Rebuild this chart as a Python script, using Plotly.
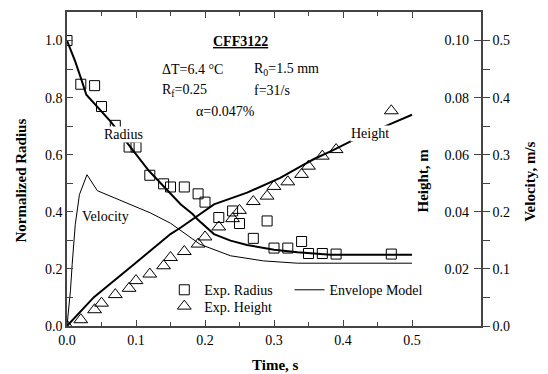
import plotly.graph_objects as go

# Experimental data
exp_t = [0, 0.02, 0.04, 0.05, 0.07, 0.09, 0.10, 0.12, 0.14, 0.15, 0.17, 0.19, 0.20,
         0.22, 0.24, 0.25, 0.27, 0.29, 0.30, 0.32, 0.34, 0.35, 0.37, 0.39, 0.47]
exp_radius = [1.0, 0.847, 0.842, 0.769, 0.703, 0.627, 0.627, 0.528, 0.498, 0.487, 0.487,
              0.463, 0.434, 0.38, 0.403, 0.359, 0.307, 0.368, 0.273, 0.273, 0.296, 0.254,
              0.254, 0.252, 0.252]
exp_height = [0, 0.0022, 0.0057, 0.008, 0.011, 0.0132, 0.0159, 0.0182, 0.0211, 0.024,
              0.0261, 0.0287, 0.0312, 0.0347, 0.0376, 0.0405, 0.0436, 0.0455, 0.0489,
              0.0505, 0.0531, 0.056, 0.0595, 0.0618, 0.0754]

# Envelope model curves
rad_t = [0, 0.012, 0.021, 0.028, 0.063, 0.119, 0.165, 0.182, 0.189, 0.213, 0.237,
         0.261, 0.30, 0.334, 0.382, 0.5]
rad_v = [1.0, 0.926, 0.862, 0.81, 0.717, 0.543, 0.426, 0.392, 0.374, 0.322, 0.299,
         0.284, 0.267, 0.258, 0.25, 0.25]

hgt_t = [0, 0.039, 0.095, 0.126, 0.15, 0.165, 0.18, 0.19, 0.213, 0.261, 0.309, 0.338,
         0.358, 0.382, 0.411, 0.47, 0.5]
hgt_v = [0, 0.0101, 0.0212, 0.0275, 0.0322, 0.0345, 0.037, 0.0385, 0.0426, 0.0467,
         0.0519, 0.0558, 0.0585, 0.0612, 0.0647, 0.0709, 0.074]

vel_t = [0, 0.005, 0.0075, 0.012, 0.018, 0.029, 0.044, 0.121, 0.15, 0.169, 0.193,
         0.237, 0.285, 0.334, 0.4, 0.5]
vel_v = [0, 0.062, 0.108, 0.178, 0.23, 0.265, 0.237, 0.198, 0.18, 0.164, 0.143,
         0.123, 0.114, 0.11, 0.11, 0.11]

FONT = "Liberation Serif"
AX = "#444"

fig = go.Figure()

fig.add_trace(go.Scatter(x=exp_t, y=exp_radius, mode="markers", name="Exp. Radius",
                         marker=dict(symbol="square-open", size=10, color="black",
                                     line=dict(width=1, color="black")),
                         legend="legend", yaxis="y"))
fig.add_trace(go.Scatter(x=exp_t, y=exp_height, mode="markers", name="Exp. Height",
                         marker=dict(symbol="triangle-up-open", size=12, color="black",
                                     line=dict(width=1, color="black")),
                         legend="legend3", yaxis="y2"))
fig.add_trace(go.Scatter(x=vel_t, y=vel_v, mode="lines", name="Envelope Model",
                         line=dict(color="black", width=1),
                         legend="legend2", yaxis="y3"))
fig.add_trace(go.Scatter(x=rad_t, y=rad_v, mode="lines", showlegend=False,
                         line=dict(color="black", width=2), yaxis="y"))
fig.add_trace(go.Scatter(x=hgt_t, y=hgt_v, mode="lines", showlegend=False,
                         line=dict(color="black", width=2), yaxis="y2"))

tickfont = dict(family=FONT, size=14, color="black")
legfont = dict(family=FONT, size=14, color="black")

# page body adds an 8px offset: figure is 540x366 placed at (8,8)
fig.update_layout(
    width=540, height=366,
    margin=dict(l=58.5, r=67, t=2, b=48),
    paper_bgcolor="white", plot_bgcolor="white",
    font=dict(family=FONT, size=14, color="black"),
    xaxis=dict(range=[0, 0.6], dtick=0.1, tickformat=".1f", ticks="inside", ticklen=6,
               tickcolor=AX, minor=dict(dtick=0.05, ticks="inside", ticklen=4, tickcolor=AX),
               showline=True, linecolor=AX, linewidth=1.5, mirror="ticks",
               showgrid=False, zeroline=False, tickfont=tickfont),
    yaxis=dict(range=[0, 1.1], tickvals=[0, 0.2, 0.4, 0.6, 0.8, 1.0], tickformat=".1f",
               ticks="inside", ticklen=6, tickcolor=AX,
               minor=dict(tickvals=[0.1, 0.3, 0.5, 0.7, 0.9], ticks="inside", ticklen=6, tickcolor=AX),
               showline=True, linecolor=AX, linewidth=1.5, showgrid=False, zeroline=False,
               tickfont=tickfont),
    yaxis2=dict(range=[0, 0.11], overlaying="y", side="right", anchor="x",
                tickvals=[0.02, 0.04, 0.06, 0.08, 0.10], tickformat=".2f",
                ticks="inside", ticklen=7, tickcolor=AX, ticklabelposition="inside",
                ticklabelstandoff=5,
                showline=True, linecolor=AX, linewidth=1.5, showgrid=False, zeroline=False,
                tickfont=tickfont),
    yaxis3=dict(range=[0, 0.55], overlaying="y", side="right", anchor="x",
                tickvals=[0, 0.1, 0.2, 0.3, 0.4, 0.5], tickformat=".1f",
                ticks="outside", ticklen=7, tickcolor=AX,
                minor=dict(tickvals=[0.05, 0.15, 0.25, 0.35, 0.45], ticks="outside", ticklen=7, tickcolor=AX),
                showline=True, linecolor=AX, linewidth=1.5, showgrid=False, zeroline=False,
                tickfont=tickfont),
    legend=dict(x=0.235, y=0.165, xanchor="left", yanchor="top", bgcolor="rgba(0,0,0,0)",
                font=legfont, itemwidth=30),
    legend3=dict(x=0.235, y=0.113, xanchor="left", yanchor="top", bgcolor="rgba(0,0,0,0)",
                 font=legfont, itemwidth=30),
    legend2=dict(x=0.5375, y=0.165, xanchor="left", yanchor="top", bgcolor="rgba(0,0,0,0)",
                 font=legfont, itemwidth=30),
)

def note(text, x, y, xanchor="left", size=14, bg=None):
    fig.add_annotation(text=text, x=x, y=y, xref="x", yref="y", showarrow=False,
                       xanchor=xanchor, yanchor="middle",
                       font=dict(family=FONT, size=size, color="black"),
                       bgcolor=bg, borderpad=0)

note("<b><u>CFF3122</u></b>", 0.2514, 0.998, xanchor="center", size=14)
note("ΔT=6.4 °C", 0.1355, 0.90)
note("R<sub>0</sub>=1.5 mm", 0.269, 0.90)
note("R<sub>f</sub>=0.25", 0.1355, 0.826)
note("f=31/s", 0.269, 0.826)
note("α=0.047%", 0.186, 0.752)
note("Radius", 0.0826, 0.67, xanchor="center", bg="white")
note("Velocity", 0.0551, 0.385, xanchor="center")
note("Height", 0.4398, 0.676, xanchor="center", bg="white")

# axis titles, positions given as reference-pixel locations relative to plot area
def title_px(text, px, py, angle=0):
    xp = (px - 66.5) / 414.5
    yp = (326 - py) / 316
    fig.add_annotation(text="<b>%s</b>" % text, x=xp, y=yp,
                       xref="paper", yref="paper", showarrow=False,
                       xanchor="center", yanchor="middle", textangle=angle,
                       font=dict(family=FONT, size=15, color="black"))

title_px("Normalized Radius", 20, 180, -90)
title_px("Height, m", 422.5, 180, -90)
title_px("Velocity, m/s", 530, 181, -90)
title_px("Time, s", 275, 365)

fig.write_html("out.html")
